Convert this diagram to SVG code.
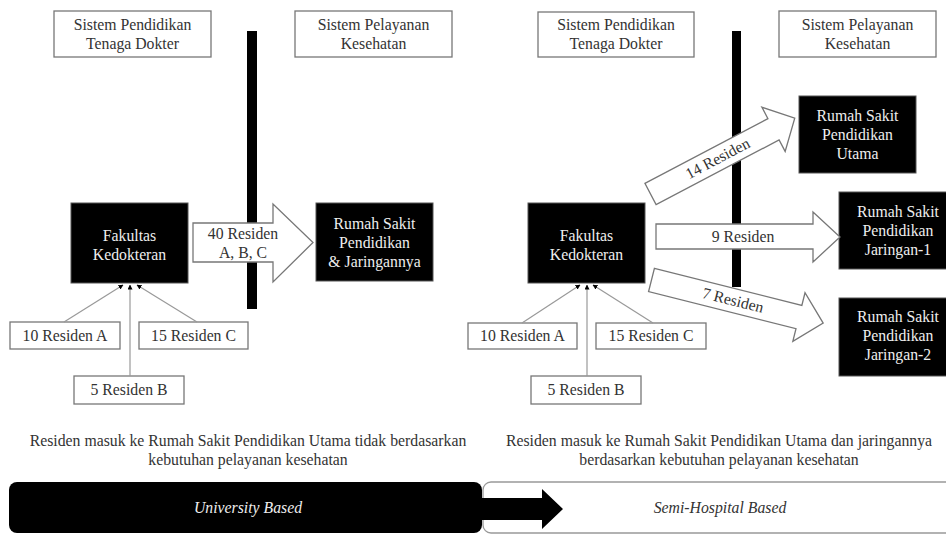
<svg xmlns="http://www.w3.org/2000/svg" width="946" height="536" viewBox="0 0 946 536">
<defs>
<marker id="ah" viewBox="0 0 10 10" refX="9" refY="5" markerWidth="5" markerHeight="5" orient="auto" markerUnits="userSpaceOnUse">
<path d="M0,0 L10,5 L0,10 z" fill="#000"/>
</marker>
<style>
text{font-family:"Liberation Serif","Times New Roman",serif;font-size:15.75px;text-anchor:middle}
.wb{fill:#fff;stroke:#777;stroke-width:1.3}
.bb{fill:#000;stroke:#555;stroke-width:1}
.dt{fill:#333}
.lt{fill:#eee}
.arw{fill:#fff;stroke:#777;stroke-width:1.3;stroke-linejoin:miter}
.ln{stroke:#999;stroke-width:1.2;fill:none;marker-end:url(#ah)}
.bar{fill:#000}
.it{font-style:italic}
</style>
</defs>
<rect width="946" height="536" fill="#fff"/>

<!-- LEFT PANEL -->
<g id="L-sys-pend"><rect class="wb" x="54" y="11" width="157" height="46"/><text class="dt" x="132.5" y="30">Sistem Pendidikan</text><text class="dt" x="132.5" y="49">Tenaga Dokter</text></g>
<g id="L-sys-pel"><rect class="wb" x="295" y="11" width="157" height="46"/><text class="dt" x="373.5" y="30">Sistem Pelayanan</text><text class="dt" x="373.5" y="49">Kesehatan</text></g>
<g id="L-divider"><rect class="bar" x="247" y="31" width="10" height="278"/></g>
<g id="L-fk"><rect class="bb" x="71" y="203" width="117" height="80"/><text class="lt" x="129.5" y="241">Fakultas</text><text class="lt" x="129.5" y="260">Kedokteran</text></g>
<g id="L-arrow40"><path class="arw" d="M193,223 H273 V204 L313,242.5 L273,282 V262 H193 Z"/><text class="dt" x="243" y="239">40 Residen</text><text class="dt" x="243" y="258">A, B, C</text></g>
<g id="L-rs"><rect class="bb" x="316" y="203" width="117" height="78"/><text class="lt" x="374.5" y="229">Rumah Sakit</text><text class="lt" x="374.5" y="248">Pendidikan</text><text class="lt" x="374.5" y="267">&amp; Jaringannya</text></g>
<g id="L-resA"><rect class="wb" x="10" y="322" width="110" height="27"/><text class="dt" x="65" y="341">10 Residen A</text></g>
<g id="L-resC"><rect class="wb" x="139" y="322" width="109" height="27"/><text class="dt" x="193.5" y="341">15 Residen C</text></g>
<g id="L-resB"><rect class="wb" x="74" y="376" width="110" height="28"/><text class="dt" x="129" y="395">5 Residen B</text></g>
<g id="L-caption"><text class="dt" x="248" y="446">Residen masuk ke Rumah Sakit Pendidikan Utama tidak berdasarkan</text><text class="dt" x="248" y="465">kebutuhan pelayanan kesehatan</text></g>

<!-- RIGHT PANEL -->
<g id="R-sys-pend"><rect class="wb" x="538" y="12" width="156" height="45"/><text class="dt" x="616" y="30">Sistem Pendidikan</text><text class="dt" x="616" y="49">Tenaga Dokter</text></g>
<g id="R-sys-pel"><rect class="wb" x="779" y="11" width="157" height="46"/><text class="dt" x="857.5" y="30">Sistem Pelayanan</text><text class="dt" x="857.5" y="49">Kesehatan</text></g>
<g id="R-divider"><rect class="bar" x="732" y="31" width="9" height="256"/></g>
<g id="R-fk"><rect class="bb" x="528" y="203" width="117" height="80"/><text class="lt" x="586.5" y="241">Fakultas</text><text class="lt" x="586.5" y="260">Kedokteran</text></g>
<g id="R-rs-utama"><rect class="bb" x="799" y="96" width="117" height="77"/><text class="lt" x="857.5" y="121">Rumah Sakit</text><text class="lt" x="857.5" y="140">Pendidikan</text><text class="lt" x="857.5" y="159">Utama</text></g>
<g id="R-rs-j1"><rect class="bb" x="839" y="192" width="118" height="77"/><text class="lt" x="898" y="217">Rumah Sakit</text><text class="lt" x="898" y="236">Pendidikan</text><text class="lt" x="898" y="255">Jaringan-1</text></g>
<g id="R-rs-j2"><rect class="bb" x="839" y="298" width="118" height="78"/><text class="lt" x="898" y="322">Rumah Sakit</text><text class="lt" x="898" y="341">Pendidikan</text><text class="lt" x="898" y="360">Jaringan-2</text></g>
<g id="R-resA"><rect class="wb" x="468" y="323" width="109" height="26"/><text class="dt" x="522.5" y="341">10 Residen A</text></g>
<g id="R-resC"><rect class="wb" x="596" y="323" width="110" height="26"/><text class="dt" x="651" y="341">15 Residen C</text></g>
<g id="R-resB"><rect class="wb" x="531" y="376" width="110" height="28"/><text class="dt" x="586" y="395">5 Residen B</text></g>
<g id="R-caption"><text class="dt" x="719" y="446">Residen masuk ke Rumah Sakit Pendidikan Utama dan jaringannya</text><text class="dt" x="719" y="465">berdasarkan kebutuhan pelayanan kesehatan</text></g>

<!-- CONNECTORS -->
<g id="connectors">
<line class="ln" x1="64" y1="322" x2="123" y2="285"/>
<line class="ln" x1="130" y1="376" x2="130" y2="285"/>
<line class="ln" x1="197" y1="322" x2="137" y2="285"/>
<line class="ln" x1="522" y1="323" x2="580" y2="285"/>
<line class="ln" x1="587" y1="376" x2="587" y2="285"/>
<line class="ln" x1="653" y1="323" x2="593" y2="285"/>
<g id="R-arrow14" transform="translate(650.5,194) rotate(-27.75)">
<path class="arw" d="M0,-12 H139 V-25 L163,0 L139,25 V12 H0 Z"/>
<text class="dt" x="76" y="5">14 Residen</text>
</g>
<g id="R-arrow9"><path class="arw" d="M656,224 H813 V212 L840,237 L813,262 V249 H656 Z"/><text class="dt" x="743" y="242">9 Residen</text></g>
<g id="R-arrow7" transform="translate(651.5,280) rotate(14.1)">
<path class="arw" d="M0,-12 H152 V-25 L177,0 L152,25 V12 H0 Z"/>
<text class="dt" x="84" y="5">7 Residen</text>
</g>
</g>

<!-- BOTTOM BAND -->
<g id="semi-hospital"><rect x="483" y="482" width="475" height="51" rx="8" fill="#fff" stroke="#999" stroke-width="1.3"/><text class="dt it" x="720" y="513">Semi-Hospital Based</text></g>
<g id="university"><rect x="9" y="482" width="473" height="51" rx="8" fill="#000"/><text class="lt it" x="248" y="513">University Based</text></g>
<g id="transition-arrow"><path d="M478,498 H542 V489 L563,509 L542,529 V520 H478 Z" fill="#000"/></g>
</svg>
